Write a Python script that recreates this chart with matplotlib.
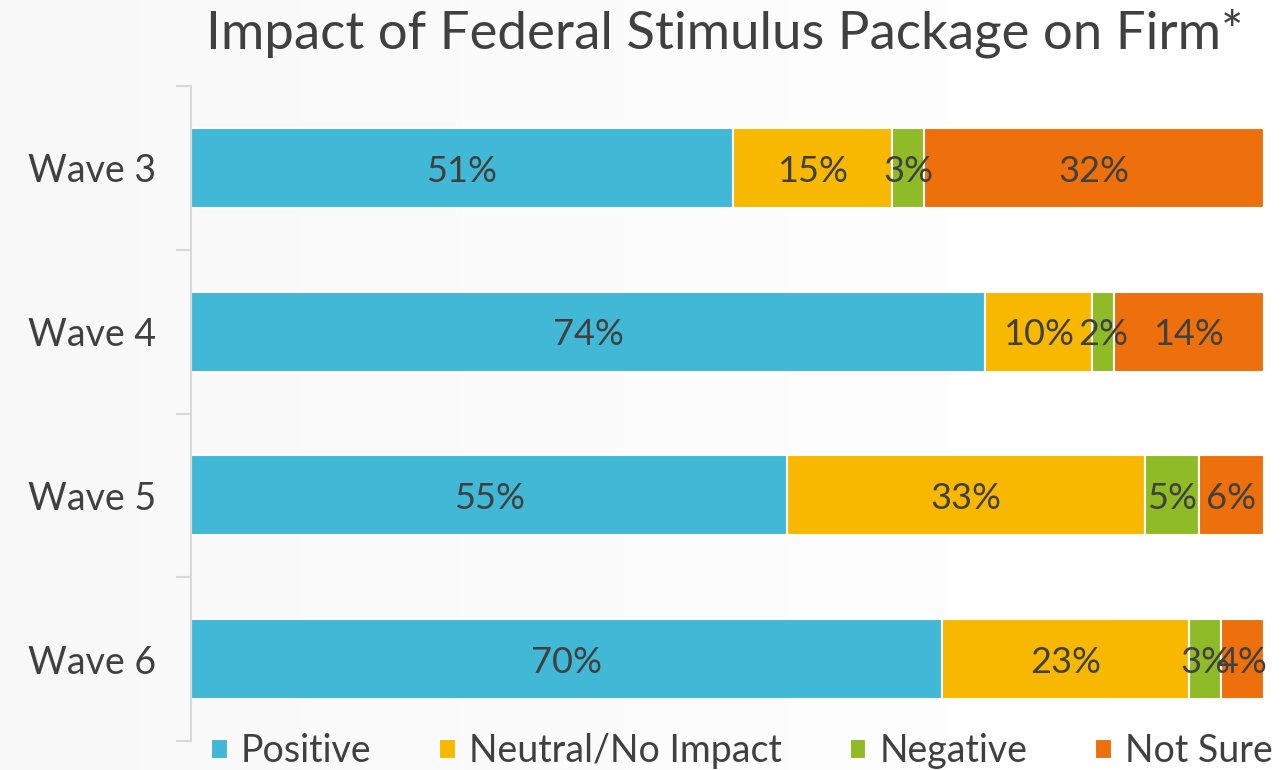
import matplotlib.pyplot as plt
import numpy as np

waves = ['Wave 3', 'Wave 4', 'Wave 5', 'Wave 6']
series = ['Positive', 'Neutral/No Impact', 'Negative', 'Not Sure']
positive = [51, 74, 55, 70]
neutral = [15, 10, 33, 23]
negative = [3, 2, 5, 3]
not_sure = [32, 14, 6, 4]
colors = ['#41b8d5', '#f9b800', '#8fbc26', '#ee700c']

plt.rcParams['font.family'] = ['Lato', 'DejaVu Sans']
txt_color = '#404040'

values = np.array([positive, neutral, negative, not_sure], dtype=float)
shares = values / values.sum(axis=0)  # 100% stacked

fig = plt.figure(figsize=(12.86, 7.7), dpi=100)

# soft gray-to-white background
bg = fig.add_axes([0, 0, 1, 1], zorder=-1)
grad = np.linspace(0.925, 1.0, 256) ** 0.4
bg.imshow(np.tile(grad, (10, 1)), cmap='gray', vmin=0, vmax=1, aspect='auto', extent=[0, 1, 0, 1])
bg.axis('off')

ax = fig.add_axes([191/1286, 1 - 741/770, (1264 - 191)/1286, (741 - 86)/770])
ax.patch.set_alpha(0)

y = np.arange(len(waves))[::-1]
left = np.zeros(len(waves))
for i, name in enumerate(series):
    ax.barh(y, shares[i], left=left, height=0.49, color=colors[i],
            edgecolor='white', lw=1.5, label=name)
    for j in range(len(waves)):
        ax.text(left[j] + shares[i][j] / 2, y[j] - 0.02, '{:d}%'.format(int(values[i][j])),
                ha='center', va='center', fontsize=26, color=txt_color)
    left += shares[i]

ax.set_xlim(0, 1)
ax.set_ylim(-0.5, len(waves) - 0.5)
ax.set_yticks(y)
ax.set_yticklabels(waves, fontsize=27, color=txt_color)
ax.set_yticks(np.arange(-0.5, len(waves), 1), minor=True)
ax.tick_params(axis='y', which='major', length=0, pad=25)
ax.tick_params(axis='y', which='minor', length=11, color='#d9d9d9', width=1.5)
ax.set_xticks([])
for s in ['top', 'right', 'bottom']:
    ax.spines[s].set_visible(False)
ax.spines['left'].set_color('#d9d9d9')
ax.spines['left'].set_linewidth(1.5)

fig.text(725/1286, 1 - 33/770, 'Impact of Federal Stimulus Package on Firm*',
         ha='center', va='center', fontsize=38, color=txt_color)

fig.legend(loc='center', bbox_to_anchor=(742/1286, 1 - 751/770), ncol=4,
           frameon=False, fontsize=27, handlelength=0.45, handleheight=0.45,
           handletextpad=0.35, columnspacing=1.8, labelcolor=txt_color)

plt.savefig('out.png', dpi=100)
